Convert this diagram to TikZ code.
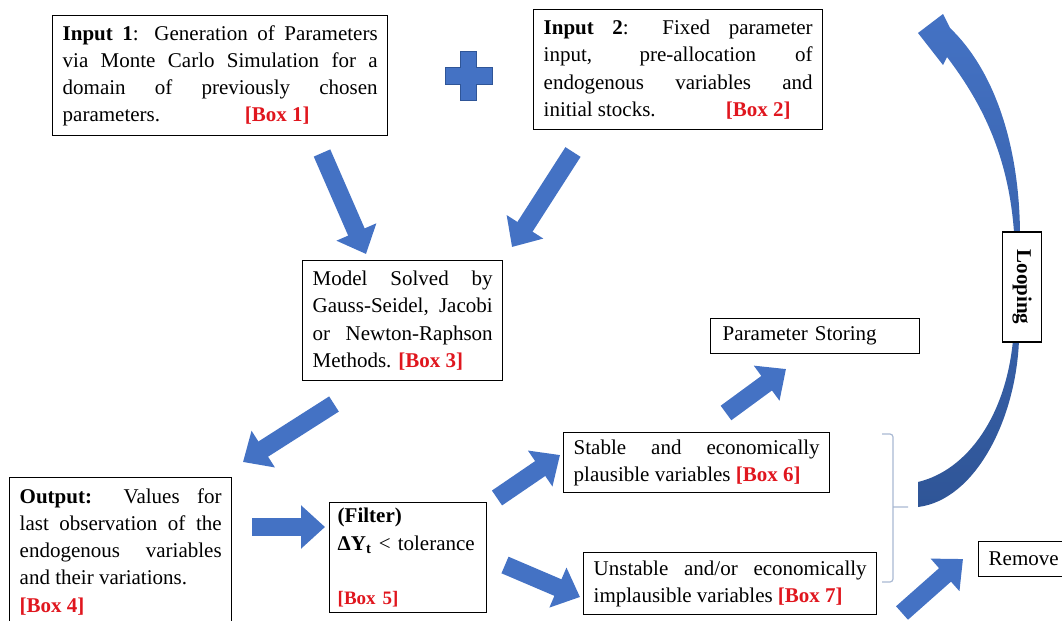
\documentclass[tikz,border=0pt]{standalone}
\usepackage{fontspec}
\setmainfont{Liberation Serif}
\usetikzlibrary{arrows.meta}

\definecolor{arrowblue}{HTML}{4472C4}
\definecolor{edgeblue}{HTML}{2F5597}
\definecolor{boxred}{HTML}{E0161E}
\definecolor{bracketgrey}{HTML}{A9B9D3}
\newcommand{\boxtag}[1]{\textcolor{boxred}{\textbf{[Box #1]}}}

\begin{document}
\begin{tikzpicture}[%
    x=0.5pt, y=-0.5pt,                       % one unit per pixel, y runs downwards
    >={Triangle[width=21pt,length=12pt]},    % Fat block-arrow heads
    ]
% -------------------------------------------------
% A few box styles
\tikzset{
  base/.style={draw, line width=0.7pt, anchor=north west, inner ysep=0pt,
    font={\fontsize{10.5}{13.6}\selectfont\hyphenpenalty=10000\exhyphenpenalty=10000}},
  proc/.style={base, inner xsep=5pt, align=justify},
  tag/.style={base, inner xsep=5pt, align=left},
  % Connector style for the block arrows
  blk/.style={->, draw=arrowblue, line width=9pt},
}
\useasboundingbox (0,0) rectangle (1062,621);
\clip (0,0) rectangle (1062,621);
% -------------------------------------------------
% Start by placing the boxes
\node [proc, text width=157.5pt, minimum height=60pt] (box1) at (52,15)
  {\textbf{Input 1}: Generation of Parameters\linebreak via Monte Carlo Simulation for a\linebreak
   domain of previously chosen\linebreak parameters.\hfill\boxtag{1}\hspace{34pt}\null};
\node [proc, text width=134.5pt, minimum height=60pt] (box2) at (533,9)
  {\textbf{Input 2}: Fixed parameter\linebreak input, pre-allocation of\linebreak
   endogenous variables and\linebreak initial stocks.\hfill\boxtag{2}\hspace{11pt}\null};
\node [proc, text width=90pt, minimum height=60pt] (box3) at (302,260)
  {Model Solved by\linebreak Gauss-Seidel, Jacobi\linebreak or Newton-Raphson\linebreak Methods. \boxtag{3}};
\node [proc, text width=101pt, minimum height=74pt] (box4) at (9,477)
  {\textbf{Output:} Values for\linebreak last observation of the\linebreak
   endogenous variables\linebreak and their variations.\\ \boxtag{4}};
\node [tag, text width=70.5pt, inner xsep=4pt, minimum height=55pt] (box5) at (329,502)
  {\textbf{(Filter)}\\ \mbox{\textbf{ΔY\textsubscript{t}} < tolerance}\\[13.6pt] {\fontsize{9.5}{12}\selectfont\boxtag{5}}};
\node [proc, text width=123pt, minimum height=30pt] (box6) at (563,432)
  {Stable and economically\linebreak plausible variables \boxtag{6}};
\node [proc, text width=136.5pt, minimum height=31pt] (box7) at (583,552)
  {Unstable and/or economically\linebreak implausible variables \boxtag{7}};
\node [tag, text width=92.5pt, minimum height=17.5pt, inner xsep=6pt] (store) at (710,318)
  {Parameter Storing};
\node [tag, text width=40pt, minimum height=17.5pt] (remove) at (978,541) {Remove};

% The plus between the two inputs
\filldraw [fill=arrowblue, draw=edgeblue, line width=0.4pt]
  (460,51) -- (476,51) -- (476,67) -- (492,67) -- (492,84) -- (476,84) -- (476,100)
  -- (460,100) -- (460,84) -- (445,84) -- (445,67) -- (460,67) -- cycle;

% -------------------------------------------------
% Block arrows between the boxes
\coordinate (b1-out) at (322,153);  \coordinate (b3-in1) at (366,254);
\coordinate (b2-out) at (573,152);  \coordinate (b3-in2) at (512,247);
\coordinate (b3-out) at (334,404);  \coordinate (b4-in) at (243,462);
\coordinate (b4-out) at (252,527);  \coordinate (b5-in) at (325,527);
\coordinate (b5-up) at (497,498);   \coordinate (b6-in) at (560,455);
\coordinate (b5-down) at (505,565); \coordinate (b7-in) at (580,597);
\coordinate (b6-out) at (726,413);  \coordinate (store-in) at (786,369);
\coordinate (b7-out) at (902,613);  \coordinate (remove-in) at (963,559);

\draw [blk] (b1-out) -- (b3-in1);
\draw [blk] (b2-out) -- (b3-in2);
\draw [blk] (b3-out) -- (b4-in);
\draw [blk] (b4-out) -- (b5-in);
\draw [blk] (b5-up) -- (b6-in);
\draw [blk] (b5-down) -- (b7-in);
\draw [blk] (b6-out) -- (store-in);
\draw [blk] (b7-out) -- (remove-in);

% Bracket round boxes 6 and 7
\draw [bracketgrey, line width=0.6pt, rounded corners=1.5pt]
  (882,434) -- (893,434) -- (893,582) -- (882,582) (893,507) -- (908,507);

% Curved looping arrow, thick at its foot
\shade [top color=arrowblue, bottom color=edgeblue]
  (918,507) .. controls (975,500) and (1016,420) .. (1019,340) -- (1020,232)
  .. controls (1019,140) and (992,68) .. (950,28) -- (943,14) -- (918,33)
  -- (943,65) -- (947,57) .. controls (978,98) and (1008,150) .. (1014,232)
  -- (1013,340) .. controls (1006,415) and (968,470) .. (918,482) -- cycle;
\node [base, anchor=center, rotate=-90, fill=white, minimum width=55pt, minimum height=19.5pt,
  font={\fontsize{10.5}{13.6}\selectfont\bfseries}] (loop) at (1022,287) {Looping};
% -------------------------------------------------
\end{tikzpicture}
\end{document}
